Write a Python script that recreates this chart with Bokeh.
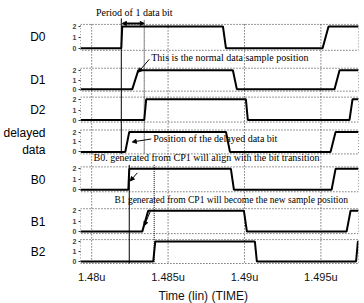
from bokeh.plotting import figure
from bokeh.models import Range1d, FixedTicker, Label, Arrow, NormalHead, LinearAxis, Title
from bokeh.embed import file_html
from bokeh.resources import INLINE

# ---------------- data (time in ns, level in V) ----------------
rows = ["D0", "D1", "D2", "delayed data", "B0", "B1", "B2"]

t_D0 = [1479.27, 1481.94, 1482.00, 1488.59, 1488.79, 1495.11, 1495.50, 1497.46]
t_D1 = [1479.27, 1482.66, 1483.05, 1489.24, 1489.50, 1495.89, 1496.22, 1497.46]
t_D2 = [1479.27, 1483.44, 1483.57, 1490.09, 1490.22, 1496.87, 1497.07, 1497.46]
t_DL = [1479.27, 1482.20, 1482.46, 1488.79, 1489.05, 1495.63, 1495.96, 1497.46]
t_B0 = [1479.27, 1482.40, 1482.46, 1489.11, 1489.31, 1495.70, 1495.96, 1497.46]
t_B1 = [1479.27, 1483.31, 1483.70, 1489.96, 1490.16, 1496.68, 1496.94, 1497.46]
t_B2 = [1479.27, 1484.03, 1484.16, 1490.68, 1490.81, 1497.30, 1497.42, 1497.46]
v_D0 = [0, 0, 2, 2, 0, 0, 2, 2]
v_D1 = [0, 0, 2, 2, 0, 0, 2, 2]
v_D2 = [0, 0, 2, 2, 0, 0, 2, 2]
v_DL = [0, 0, 2, 2, 0, 0, 2, 2]
v_B0 = [0, 0, 2, 2, 0, 0, 2, 2]
v_B1 = [0, 0, 2, 2, 0, 0, 2, 2]
v_B2 = [0, 0, 2, 2, 0, 0, 2, 2]
traces = [(t_D0, v_D0), (t_D1, v_D1), (t_D2, v_D2), (t_DL, v_DL),
          (t_B0, v_B0), (t_B1, v_B1), (t_B2, v_B2)]

x_ticks = [1480, 1485, 1490, 1495]
x_tick_labels = ["1.48u", "1.485u", "1.49u", "1.495u"]
level_ticks = [0, 1, 2]

cursor_solid = [1481.94, 1482.46]     # top group / bottom group
cursor_dotted = [1483.44, 1484.09]
period_bit = [1482.01, 1483.44]

# ---------------- layout ----------------
T0, T1 = 1479.27, 1497.46
row_hi = [26, 70, 99, 132, 169, 211, 242]   # vertical position of level 2
row_lo = [48, 89, 120, 152, 190, 232, 262]  # vertical position of level 0
Y_BOTTOM, Y_TOP = 265, 0


def ypos(i, v):
    return row_lo[i] - v * (row_lo[i] - row_hi[i]) / 2.0


p = figure(width=364, height=303, output_backend="svg", toolbar_location=None,
           x_range=Range1d(T0, T1), y_range=Range1d(Y_BOTTOM, Y_TOP),
           min_border_left=79, min_border_right=6, min_border_top=0,
           min_border_bottom=38)
p.outline_line_color = None
p.background_fill_color = "white"
p.border_fill_color = "white"

# x axis
p.xaxis.ticker = FixedTicker(ticks=x_ticks)
p.xaxis.major_label_overrides = {k: s for k, s in zip(x_ticks, x_tick_labels)}
p.xaxis.axis_line_color = None
p.xaxis.major_tick_line_color = None
p.xaxis.minor_tick_line_color = None
p.xaxis.major_tick_out = 0
p.xaxis.major_tick_in = 0
p.xaxis.minor_tick_out = 0
p.xaxis.major_label_standoff = 6
p.xaxis.major_label_text_font = "Liberation Sans"
p.xaxis.major_label_text_font_size = "11px"
p.xaxis.major_label_text_color = "#111111"

p.add_layout(Title(text="Time (lin) (TIME)", align="left", offset=78, standoff=2,
                   text_font="Liberation Sans", text_font_size="12px",
                   text_font_style="normal", text_color="#111111"), "below")

# y axis: 0/1/2 per row
yt = []
ylab = {}
for i in range(len(rows)):
    for lv in level_ticks:
        y = int(round(ypos(i, lv)))
        yt.append(y)
        ylab[y] = str(lv)
p.yaxis.ticker = FixedTicker(ticks=yt)
p.yaxis.major_label_overrides = ylab
p.yaxis.axis_line_color = None
p.yaxis.major_tick_out = 2
p.yaxis.major_tick_in = 0
p.yaxis.minor_tick_out = 0
p.yaxis.major_tick_line_color = "#333333"
p.yaxis.minor_tick_line_color = None
p.yaxis.major_label_standoff = 2
p.yaxis.major_label_text_font = "Liberation Sans"
p.yaxis.major_label_text_font_size = "7px"
p.yaxis.major_label_text_font_style = "bold"

# outer axis with row names
nt = []
nlab = {}
for i, name in enumerate(rows):
    yc = (row_hi[i] + row_lo[i]) / 2.0
    parts = name.split(" ")
    if len(parts) == 1:
        k = int(round(yc))
        nt.append(k)
        nlab[k] = name
    else:
        k1, k2 = int(round(yc - 9)), int(round(yc + 8))
        nt += [k1, k2]
        nlab[k1] = parts[0]
        nlab[k2] = parts[1]
name_axis = LinearAxis(ticker=FixedTicker(ticks=nt), major_label_overrides=nlab,
                       axis_line_color=None, major_tick_line_color=None,
                       minor_tick_line_color=None, major_tick_out=0, major_tick_in=0,
                       minor_tick_out=0, major_label_standoff=24,
                       major_label_text_font="Liberation Sans",
                       major_label_text_font_size="12px", major_label_text_color="black")
p.add_layout(name_axis, "left")

p.xgrid.grid_line_color = None
p.ygrid.grid_line_color = None

# vertical dotted grid lines at the time ticks
p.segment(x0=x_ticks, x1=x_ticks, y0=[ypos(0, 2) - 2] * len(x_ticks),
          y1=[Y_BOTTOM] * len(x_ticks), line_color="#333333", line_dash="1 2", line_width=1)

# row boxes (dotted)
p.quad(left=[T0] * len(rows), right=[T1] * len(rows),
       top=[ypos(i, 2) - 2 for i in range(len(rows))],
       bottom=[ypos(i, 0) + 2 for i in range(len(rows))],
       fill_color=None, line_color="#333333", line_dash="1 2", line_width=1)

# cursor lines
p.segment(x0=[cursor_solid[0], cursor_solid[1]], x1=[cursor_solid[0], cursor_solid[1]],
          y0=[18, ypos(4, 2) - 4], y1=[ypos(3, 0) + 2, ypos(6, 0) + 2],
          line_color="black", line_width=1)
p.segment(x0=[cursor_dotted[0], cursor_dotted[1]], x1=[cursor_dotted[0], cursor_dotted[1]],
          y0=[20, ypos(4, 2) - 4], y1=[ypos(3, 0) + 2, ypos(6, 0) + 2],
          line_color="black", line_width=1, line_dash="1 1")

# traces
for i, (t, v) in enumerate(traces):
    p.line(t, [ypos(i, val) for val in v], line_color="black", line_width=2)

# annotations
serif = "Liberation Serif"
notes = [
    ("Period of 1 data bit", 1482.79, 12, "center", "10px"),
    ("This is the normal data sample position", 1483.90, 57, "left", "10px"),
    ("Position of the delayed data bit", 1484.03, 139, "left", "10px"),
    ("B0. generated from CP1 will align with the bit transition", 1480.12, 158, "left", "10px"),
    ("B1 generated from CP1 will become the new sample position", 1481.49, 200, "left", "9.5px"),
]
for txt, x, y, al, fs in notes:
    p.add_layout(Label(x=x, y=y, text=txt, text_align=al, text_baseline="middle",
                       text_font=serif, text_font_size=fs, text_color="black"))

p.add_layout(Arrow(start=NormalHead(size=4, fill_color="black"), end=NormalHead(size=4, fill_color="black"),
                   x_start=period_bit[0], y_start=23, x_end=period_bit[1], y_end=23,
                   line_width=2))
for xs, ys, xe, ye in [(1483.77, 59, 1483.05, 72), (1483.90, 139, 1482.66, 142),
                       (1482.99, 173, 1482.53, 181), (1483.83, 212, 1483.44, 226)]:
    p.add_layout(Arrow(end=NormalHead(size=4, fill_color="black"),
                       x_start=xs, y_start=ys, x_end=xe, y_end=ye, line_width=1))

open("out.html", "w").write(file_html(p, INLINE))
